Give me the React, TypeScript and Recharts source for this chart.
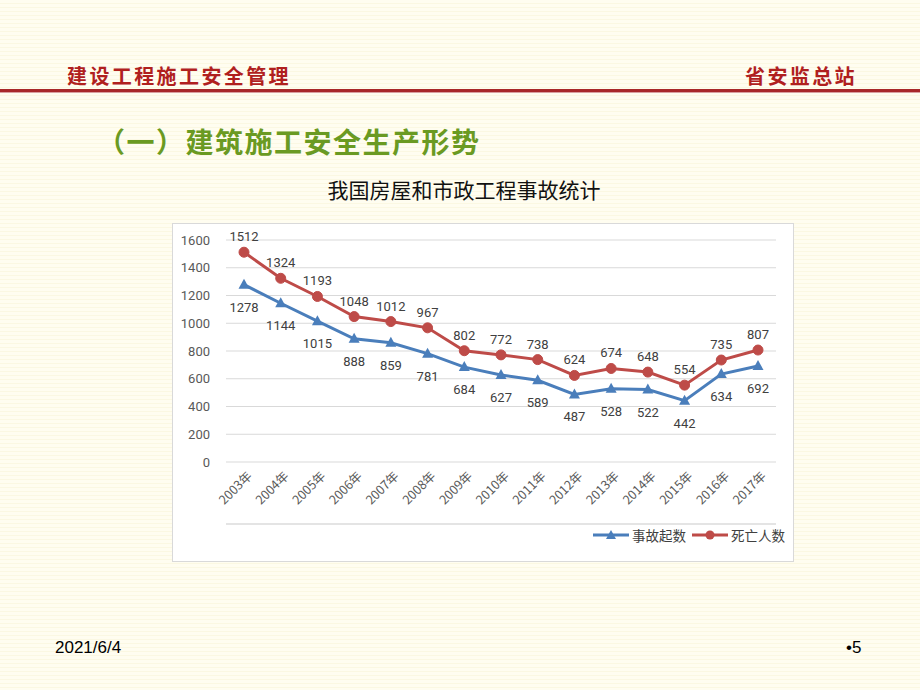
import { CartesianGrid, Legend, LabelList, Line, LineChart, XAxis, YAxis } from "recharts";

const years = ["2003年", "2004年", "2005年", "2006年", "2007年", "2008年", "2009年", "2010年", "2011年", "2012年", "2013年", "2014年", "2015年", "2016年", "2017年"];
const accidents = [1278, 1144, 1015, 888, 859, 781, 684, 627, 589, 487, 528, 522, 442, 634, 692];
const deaths = [1512, 1324, 1193, 1048, 1012, 967, 802, 772, 738, 624, 674, 648, 554, 735, 807];
const yTicks = [0, 200, 400, 600, 800, 1000, 1200, 1400, 1600];
const boundaryTicks = [0, 1, 2, 3, 4, 5, 6, 7, 8, 9, 10, 11, 12, 13, 14, 15];

const data = years.map((year, i) => ({ year, accidents: accidents[i], deaths: deaths[i] }));

const BLUE = "#4a7ebb";
const RED = "#be4b48";
const CJK = '"Noto Sans CJK SC", "Noto Sans", sans-serif';

function YearTick(props: any) {
  const { x, y, payload } = props;
  return (
    <g transform={`translate(${x + 6},${y + 4})`}>
      <text transform="rotate(-45)" textAnchor="end" dy={4} fill="#595959" fontSize={12.5} fontFamily={CJK}>
        {payload.value}
      </text>
    </g>
  );
}

function topLabel(props: any) {
  const { x, y, value } = props;
  return (
    <text x={x} y={y - 11} textAnchor="middle" fill="#404040" fontSize={13} fontFamily="Roboto, sans-serif">
      {value}
    </text>
  );
}

function bottomLabel(props: any) {
  const { x, y, value } = props;
  return (
    <text x={x} y={y + 27} textAnchor="middle" fill="#404040" fontSize={13} fontFamily="Roboto, sans-serif">
      {value}
    </text>
  );
}

function LegendBox() {
  const item = (color: string, shape: "tri" | "dot", label: string) => (
    <span style={{ display: "inline-flex", alignItems: "center", marginLeft: 6 }}>
      <svg width={36} height={12}>
        <line x1={0} y1={6} x2={36} y2={6} stroke={color} strokeWidth={3} />
        {shape === "tri" ? <polygon points="18,1 23,10 13,10" fill={color} /> : <circle cx={18} cy={6} r={4.5} fill={color} />}
      </svg>
      <span style={{ marginLeft: 3 }}>{label}</span>
    </span>
  );
  return (
    <div style={{ fontFamily: CJK, fontSize: 13.5, color: "#404040", display: "flex", justifyContent: "flex-end" }}>
      {item(BLUE, "tri", "事故起数")}
      {item(RED, "dot", "死亡人数")}
    </div>
  );
}

export default function App() {
  return (
    <div
      style={{
        position: "absolute",
        left: 0,
        top: 0,
        width: 920,
        height: 690,
        overflow: "hidden",
        background: "repeating-linear-gradient(180deg, #fffdf0 0px, #fffdf0 3px, #fbf8e2 3px, #fbf8e2 4px)",
      }}
    >
      <div style={{ position: "absolute", left: 67, top: 61, fontFamily: CJK, fontWeight: 700, fontSize: 20, letterSpacing: 2.4, color: "#b0201e" }}>
        建设工程施工安全管理
      </div>
      <div style={{ position: "absolute", left: 745, top: 61, fontFamily: CJK, fontWeight: 700, fontSize: 20, letterSpacing: 2.4, color: "#b0201e" }}>
        省安监总站
      </div>
      <div style={{ position: "absolute", left: 0, top: 89, width: 920, height: 3, background: "#a8282a" }} />
      <div style={{ position: "absolute", left: 0, top: 92, width: 920, height: 1, background: "#d9a0a0" }} />
      <div style={{ position: "absolute", left: 97, top: 121, fontFamily: CJK, fontWeight: 700, fontSize: 28, color: "#6a9a22", letterSpacing: 1.5 }}>
        （一）建筑施工安全生产形势
      </div>
      <div style={{ position: "absolute", left: 0, top: 174, width: 928, textAlign: "center", fontFamily: CJK, fontSize: 21, color: "#111" }}>
        我国房屋和市政工程事故统计
      </div>
      <div style={{ position: "absolute", left: 172, top: 223, width: 622, height: 339, background: "#fff", border: "1px solid #d9d9d9", boxSizing: "border-box" }}>
        <LineChart width={620} height={337} data={data} margin={{ top: 16, right: 17, left: 0, bottom: 16 }}>
          <CartesianGrid vertical={false} stroke="#d9d9d9" />
          <XAxis
            xAxisId="b"
            type="number"
            domain={[0, 15]}
            ticks={boundaryTicks}
            tick={false}
            tickSize={5}
            height={1}
            stroke="#c9c9c9"
            allowDataOverflow
          />
          <XAxis
            dataKey="year"
            axisLine={false}
            tickLine={false}
            tick={<YearTick />}
            interval={0}
            height={62}
            padding={{ left: 18, right: 18 }}
          />
          <YAxis
            domain={[0, 1600]}
            ticks={yTicks}
            width={53}
            axisLine={false}
            tickLine={false}
            tickMargin={10}
            tick={{ fill: "#595959", fontSize: 13, fontFamily: "Roboto, sans-serif" }}
          />
          <Legend verticalAlign="bottom" align="right" content={<LegendBox />} wrapperStyle={{ right: 8 }} />
          <Line
            dataKey="accidents"
            name="事故起数"
            stroke={BLUE}
            strokeWidth={3}
            isAnimationActive={false}
            dot={(p: any) => (
              <polygon key={p.index} points={`${p.cx},${p.cy - 6} ${p.cx + 5.5},${p.cy + 4} ${p.cx - 5.5},${p.cy + 4}`} fill={BLUE} />
            )}
          >
            <LabelList dataKey="accidents" content={bottomLabel} />
          </Line>
          <Line
            dataKey="deaths"
            name="死亡人数"
            stroke={RED}
            strokeWidth={3}
            isAnimationActive={false}
            dot={{ r: 5, fill: RED, stroke: RED, strokeWidth: 1 }}
          >
            <LabelList dataKey="deaths" content={topLabel} />
          </Line>
        </LineChart>
      </div>
      <div style={{ position: "absolute", left: 55, top: 638, fontFamily: '"Liberation Sans", Arial, sans-serif', fontSize: 17, color: "#000" }}>
        2021/6/4
      </div>
      <div style={{ position: "absolute", left: 846, top: 638, fontFamily: '"Liberation Sans", Arial, sans-serif', fontSize: 17, color: "#000" }}>
        •5
      </div>
    </div>
  );
}
